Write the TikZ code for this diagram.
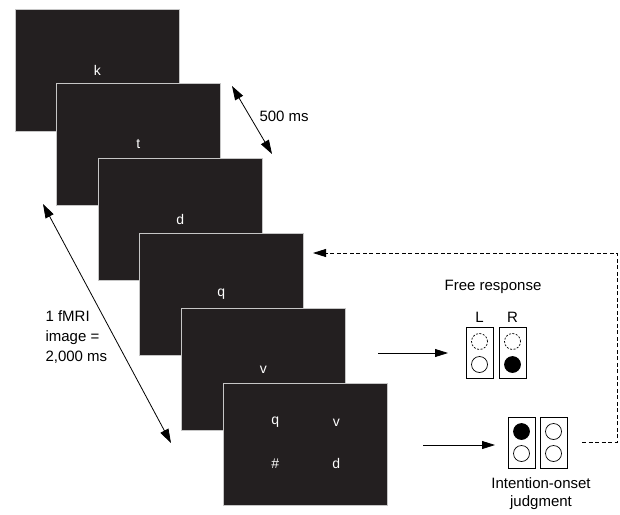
\documentclass[tikz,border=0pt]{standalone}
\usepackage{fontspec}
\setmainfont{Liberation Sans}
\usetikzlibrary{arrows.meta,positioning,calc}
\definecolor{screenfill}{HTML}{231F20}

\begin{document}
\begin{tikzpicture}[
    x=1pt, y=-1pt,
    font=\fontsize{15}{18}\selectfont,
    screen/.style={
        draw=gray!45,
        line width=0.7pt,
        fill=screenfill,
        anchor=north west,
        minimum width=164pt,
        minimum height=122pt,
        inner sep=0pt
    },
    letter/.style={text=white, font=\fontsize{14}{16}\selectfont},
    lampbox/.style={
        draw,
        line width=0.8pt,
        minimum width=27pt,
        minimum height=51pt,
        inner sep=0pt
    },
    lamp/.style={draw, circle, line width=0.7pt, minimum size=16pt, inner sep=0pt},
    lampoff/.style={lamp, dash pattern=on 2pt off 1.5pt},
    lampon/.style={lamp, fill=black},
    arr/.style={-{Triangle[length=13pt,width=8pt]}, line width=0.8pt},
    darr/.style={{Triangle[length=14pt,width=9pt]}-{Triangle[length=14pt,width=9pt]}, line width=0.8pt}
]
\useasboundingbox (0,0) rectangle (620,514);

% stack of screens
\node[screen] (s1) at (15,9) {};
\node[letter] (k1) at (s1.center) {k};
\node[screen] (s2) at (56,83) {};
\node[letter] (k2) at (s2.center) {t};
\node[screen] (s3) at (98,158) {};
\node[letter] (k3) at (s3.center) {d};
\node[screen] (s4) at (139,233) {};
\node[letter] (k4) at (s4.center) {q};
\node[screen] (s5) at (181,308) {};
\node[letter] (k5) at (s5.center) {v};
\node[screen] (s6) at (223,383) {};
\node[letter] (q6) at ($(s6.center)+(-30,-22)$) {q};
\node[letter] (v6) at ($(s6.center)+(31,-22)$) {v};
\node[letter] (h6) at ($(s6.center)+(-30,19)$) {\#};
\node[letter] (d6) at ($(s6.center)+(31,19)$) {d};

% timing arrows
\coordinate (t1) at (232,86);
\coordinate (t2) at (272,154);
\draw[darr] (t1) -- (t2);
\node[anchor=west] (isi) at (256,116) {500 ms};

\coordinate (f1) at (43,204);
\coordinate (f2) at (171,443);
\draw[darr] (f1) -- (f2);
\node[anchor=north west, align=left, font=\fontsize{15}{20}\selectfont] (tr) at (42,307)
    {1 fMRI\\image =\\2,000 ms};

% free response
\node (free) at (493,287) {Free response};
\node[lampbox] (lbox) at (479.5,352.5) {};
\node[lampbox] (rbox) at (512.5,352.5) {};
\node (ltxt) at (479.5,317) {L};
\node (rtxt) at (512.5,317) {R};
\node[lampoff] (lup) at ($(lbox.center)+(0,-11)$) {};
\node[lamp] (ldown) at ($(lbox.center)+(0,12)$) {};
\node[lampoff] (rup) at ($(rbox.center)+(0,-11)$) {};
\node[lampon] (rdown) at ($(rbox.center)+(0,12)$) {};

\coordinate (a1) at (378,353);
\coordinate (a2) at (448,353);
\draw[arr] (a1) -- (a2);

% intention-onset judgment
\node[lampbox] (jl) at (521.5,442.5) {};
\node[lampbox] (jr) at (553.5,442.5) {};
\node[lampon] (jlup) at ($(jl.center)+(0,-11)$) {};
\node[lamp] (jldown) at ($(jl.center)+(0,11)$) {};
\node[lamp] (jrup) at ($(jr.center)+(0,-11)$) {};
\node[lamp] (jrdown) at ($(jr.center)+(0,11)$) {};
\node[align=center, font=\fontsize{15}{18}\selectfont] (judg) at (541,494)
    {Intention-onset\\judgment};

\coordinate (b1) at (423,445);
\coordinate (b2) at (495,445);
\draw[arr] (b1) -- (b2);

% feedback to next screen
\coordinate (c1) at (582,442);
\coordinate (c2) at (313,253);
\draw[arr, dash pattern=on 4pt off 2.5pt] (c1) -- (617,442) |- (c2);

\end{tikzpicture}
\end{document}
